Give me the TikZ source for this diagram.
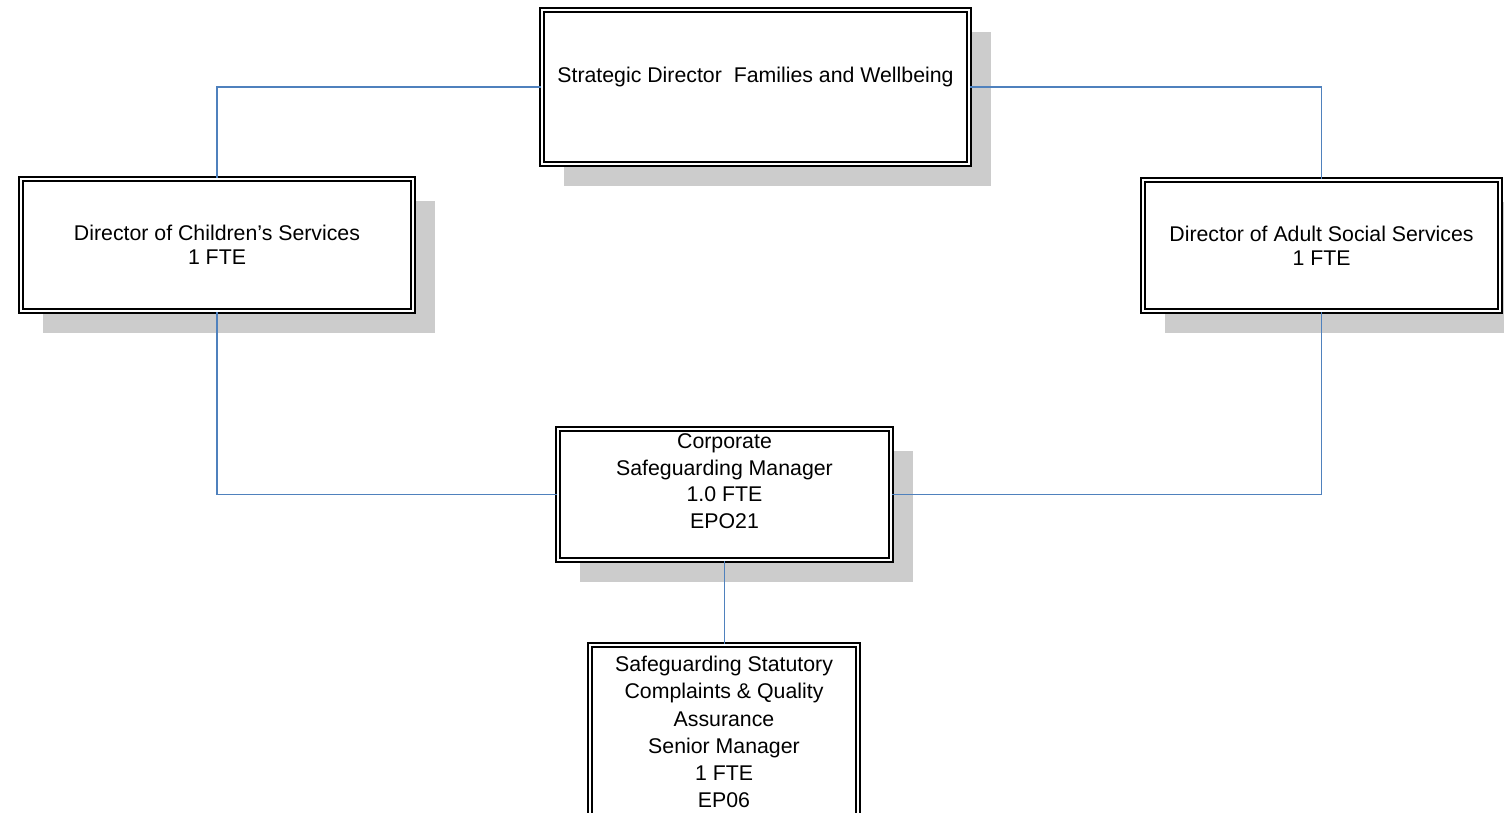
\documentclass[tikz,border=0pt]{standalone}
\usepackage{fontspec}
\setmainfont{Liberation Sans}
\usetikzlibrary{shadows}
\definecolor{linkblue}{RGB}{79,129,189}
\definecolor{shadowgray}{RGB}{204,204,204}
\begin{document}
\begin{tikzpicture}[x=1pt,y=-1pt,
  orgbox/.style={draw=black, line width=1.7pt, double=white, double distance=2.2pt,
    fill=white, align=center, inner sep=0pt},
  shadowed/.style={drop shadow={shadow xshift=22pt, shadow yshift=-22pt, fill=shadowgray, opacity=1}},
  fontA/.style={font=\fontsize{21.3}{24}\selectfont},
  fontB/.style={font=\fontsize{21.3}{26.5}\selectfont},
  fontC/.style={font=\fontsize{21.3}{27.3}\selectfont},
  link/.style={draw=linkblue, line width=1.5pt}]
\useasboundingbox (0,0) rectangle (1504,812);

\node[orgbox, shadowed, fontA, minimum width=427.4pt, minimum height=154.4pt] (top) at (755.5,87)
  {Strategic Director\ \ Families and Wellbeing\\~};
\node[orgbox, shadowed, fontA, minimum width=392.4pt, minimum height=132.4pt] (child) at (217,245)
  {Director of Children’s Services\\1 FTE};
\node[orgbox, shadowed, fontA, minimum width=357.4pt, minimum height=131.4pt] (adult) at (1321.5,245.5)
  {Director of Adult Social Services\\1 FTE};
\node[orgbox, shadowed, fontB, minimum width=333.4pt, minimum height=131.4pt] (mid) at (724.5,494.5)
  {Corporate\\Safeguarding Manager\\1.0 FTE\\EPO21\\~};
\node[orgbox, fontC, minimum width=268.4pt, minimum height=229pt] (bot) at (724,759.3)
  {Safeguarding Statutory\\Complaints \& Quality\\Assurance\\Senior Manager\\1 FTE\\EP06\\~\\~};

\draw[link] (top.west) -| (child.north);
\draw[link] (top.east) -| (adult.north);
\draw[link] (child.south) |- (mid.west);
\draw[link] (adult.south) |- (mid.east);
\draw[link] (mid.south) -- (mid.south |- bot.north);
\end{tikzpicture}
\end{document}
